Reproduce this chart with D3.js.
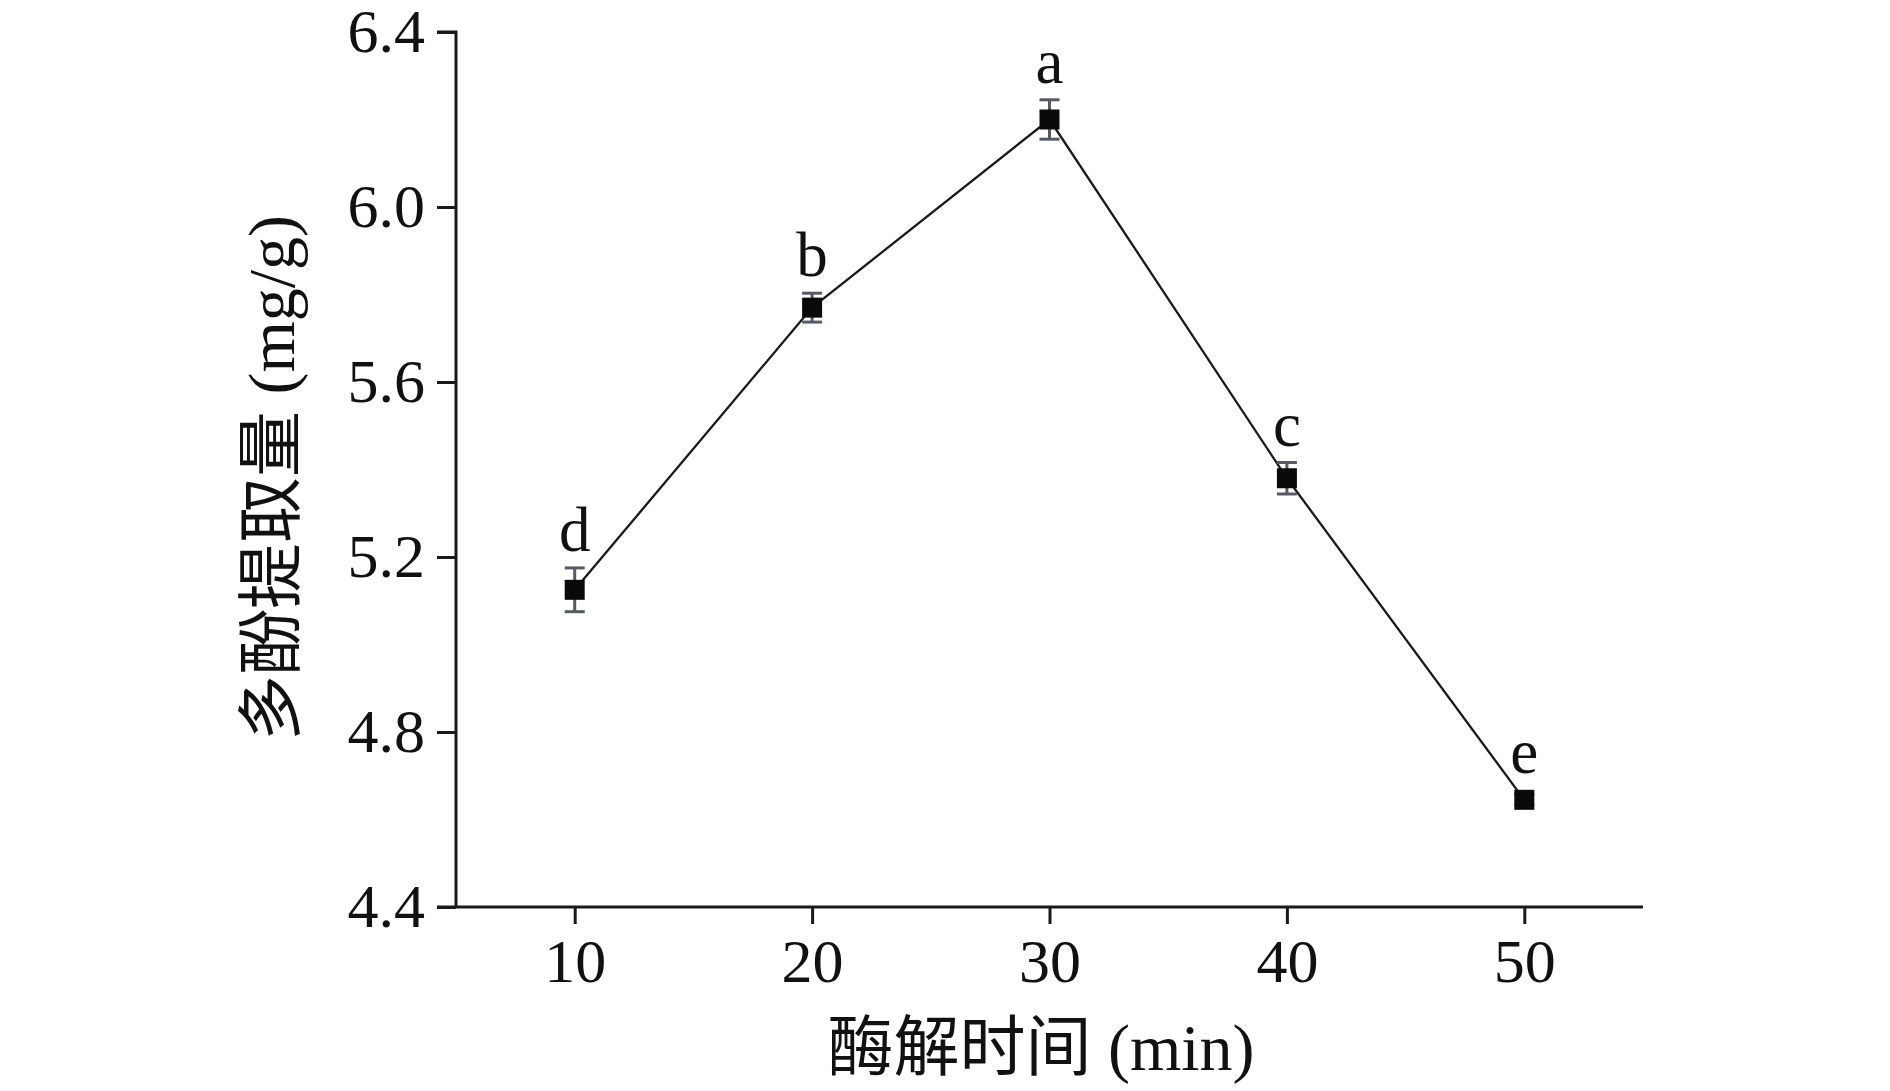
<!DOCTYPE html>
<html>
<head>
<meta charset="utf-8">
<script src="https://cdn.jsdelivr.net/npm/d3@7"></script>
<style>
  html, body { margin: 0; padding: 0; background: #fff; }
  svg { display: block; }
  text { font-family: "Liberation Serif", "Times New Roman", serif; fill: #111; }
  .cjk { font-family: "Noto Sans CJK SC", sans-serif; }
</style>
</head>
<body>
<svg></svg>
<script>
(function (d3) {
  'use strict';

  // data
  const times = [10, 20, 30, 40, 50];
  const means = [5.125, 5.77, 6.20, 5.38, 4.645];
  const errs = [0.05, 0.033, 0.045, 0.036, 0.012];
  const letters = ['d', 'b', 'a', 'c', 'e'];
  const xTicks = [10, 20, 30, 40, 50];
  const yTicks = [4.4, 4.8, 5.2, 5.6, 6.0, 6.4];

  const width = 1890, height = 1091;
  const margin = { top: 32, right: 247, bottom: 184, left: 456 };

  const svg = d3.select('svg')
      .attr('width', width)
      .attr('height', height);

  const x = d3.scaleLinear().domain([5, 55]).range([margin.left, width - margin.right]);
  const y = d3.scaleLinear().domain([4.4, 6.4]).range([height - margin.bottom, margin.top]);

  const data = times.map((t, i) => ({ t, m: means[i], e: errs[i], l: letters[i] }));

  // axes
  const yAxis = svg.append('g')
      .attr('transform', `translate(${margin.left},0)`)
      .call(d3.axisLeft(y).tickValues(yTicks).tickFormat(d3.format('.1f')).tickSize(19).tickPadding(12));
  const xAxis = svg.append('g')
      .attr('transform', `translate(0,${height - margin.bottom})`)
      .call(d3.axisBottom(x).tickValues(xTicks).tickSize(17).tickPadding(14));

  [xAxis, yAxis].forEach(a => {
    a.select('.domain').attr('stroke', '#1a1a1a').attr('stroke-width', 3);
    a.selectAll('.tick line').attr('stroke', '#1a1a1a').attr('stroke-width', 3);
    a.selectAll('.tick text')
      .attr('fill', '#111')
      .attr('font-size', 62)
      .attr('font-family', '"Liberation Serif", serif');
  });
  yAxis.select('.domain').attr('d', `M-19,${y(6.4)}H0V${y(4.4)}`);
  xAxis.select('.domain').attr('d', `M${margin.left - 19},0H${width - margin.right}`);
  xAxis.selectAll('.tick text').attr('dy', '0.71em');

  // line
  svg.append('path')
      .datum(data)
      .attr('fill', 'none')
      .attr('stroke', '#1a1a1a')
      .attr('stroke-width', 2.3)
      .attr('d', d3.line().x(d => x(d.t)).y(d => y(d.m)));

  // error bars
  const eb = svg.append('g').selectAll('g').data(data).enter().append('g')
      .attr('stroke', '#555a66')
      .attr('stroke-width', 3);
  eb.append('line')
      .attr('x1', d => x(d.t)).attr('x2', d => x(d.t))
      .attr('y1', d => y(d.m - d.e)).attr('y2', d => y(d.m + d.e));
  eb.append('line')
      .attr('x1', d => x(d.t) - 10).attr('x2', d => x(d.t) + 10)
      .attr('y1', d => y(d.m + d.e)).attr('y2', d => y(d.m + d.e));
  eb.append('line')
      .attr('x1', d => x(d.t) - 10).attr('x2', d => x(d.t) + 10)
      .attr('y1', d => y(d.m - d.e)).attr('y2', d => y(d.m - d.e));

  // markers
  svg.append('g').selectAll('rect').data(data).enter().append('rect')
      .attr('x', d => x(d.t) - 10)
      .attr('y', d => y(d.m) - 10)
      .attr('width', 20)
      .attr('height', 20)
      .attr('fill', '#0a0a0a');

  // significance letters
  svg.append('g').selectAll('text').data(data).enter().append('text')
      .attr('x', d => x(d.t))
      .attr('y', d => Math.min(y(d.m + d.e), y(d.m) - 10) - 17)
      .attr('text-anchor', 'middle')
      .attr('font-size', 63)
      .text(d => d.l);

  // axis titles
  const xt = svg.append('text')
      .attr('x', 1041)
      .attr('y', 1070)
      .attr('text-anchor', 'middle')
      .attr('font-size', 66);
  xt.append('tspan').attr('class', 'cjk').text('酶解时间');
  xt.append('tspan').text(' (min)');

  const yt = svg.append('text')
      .attr('transform', 'translate(294,478) rotate(-90)')
      .attr('text-anchor', 'middle')
      .attr('font-size', 66);
  yt.append('tspan').attr('class', 'cjk').text('多酚提取量');
  yt.append('tspan').text(' (mg/g)');

}(d3));
</script>
</body>
</html>
